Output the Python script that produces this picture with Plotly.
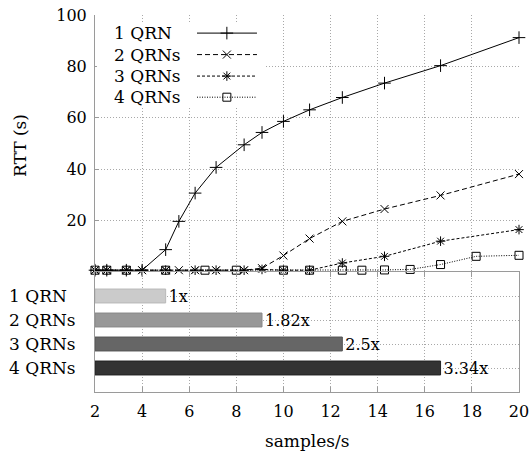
import plotly.graph_objects as go

# ---------------- data ----------------
series_names = ["1 QRN", "2 QRNs", "3 QRNs", "4 QRNs"]

x_1 = [2, 2.5, 3.33, 4, 5, 5.56, 6.25, 7.14, 8.33, 9.09, 10, 11.11, 12.5, 14.29, 16.67, 20]
y_1 = [0.7, 0.7, 0.7, 0.7, 8.7, 19.7, 30.7, 40.7, 49.5, 54.3, 58.6, 63.1, 67.9, 73.5, 80.3, 91.2]

x_2 = [2, 2.5, 3.33, 4, 5, 5.56, 6.25, 7.14, 8.33, 9.09, 10, 11.11, 12.5, 14.29, 16.67, 20]
y_2 = [0.7, 0.7, 0.7, 0.7, 0.7, 0.7, 0.7, 0.7, 0.7, 1.5, 6.4, 13.0, 19.7, 24.5, 29.8, 38.1]

x_3 = [2, 2.5, 3.33, 4, 5, 6.25, 7.14, 8.33, 9.09, 10, 11.11, 12.5, 14.29, 16.67, 20]
y_3 = [0.7, 0.7, 0.7, 0.7, 0.7, 0.7, 0.7, 0.7, 1.0, 0.7, 0.7, 3.5, 6.1, 12.0, 16.5]

x_4 = [2, 2.5, 3.33, 5, 6.67, 8, 10, 11.11, 12.5, 13.33, 14.29, 15.38, 16.67, 18.18, 20]
y_4 = [0.7, 0.7, 0.7, 0.7, 0.7, 0.7, 0.7, 0.7, 0.7, 0.7, 0.8, 1.0, 2.9, 6.1, 6.5]

max_rate = [5.0, 9.09, 12.5, 16.67]          # samples/s sustained per configuration
speedup_labels = ["1x", "1.82x", "2.5x", "3.34x"]
bar_positions = [1, 2, 3, 4]

x_ticks = [2, 4, 6, 8, 10, 12, 14, 16, 18, 20]
y_ticks = [20, 40, 60, 80, 100]

# ---------------- styles ----------------
FONT = "DejaVu Serif"
FS = 16
AXC = "#9a9a9a"
GRIDC = "#a8a8a8"
GRIDDASH = "1px,2px"
bar_colors = ["#cbcbcb", "#989898", "#666666", "#333333"]
bar_lines = ["#b8b8b8", "#888888", "#555555", "#222222"]
dashes = ["solid", "5px,3px", "3px,2px", "1px,1.5px"]
symbols = ["cross-thin-open", "x-thin-open", "asterisk-open", "square-open"]
msizes = [9, 8, 8, 8]

xs = [x_1, x_2, x_3, x_4]
ys = [y_1, y_2, y_3, y_4]

fig = go.Figure()

# line series (top panel)
for i in [3, 2, 1, 0]:
    fig.add_trace(go.Scatter(
        x=xs[i], y=ys[i], mode="lines+markers", name=series_names[i],
        xaxis="x", yaxis="y", showlegend=False, hoverinfo="skip",
        line=dict(color="black", width=1, dash=dashes[i]),
        marker=dict(symbol=symbols[i], size=msizes[i], color="black",
                    line=dict(color="black", width=1)),
        cliponaxis=False,
    ))

# bars (bottom panel)
fig.add_trace(go.Bar(
    y=bar_positions, x=[v - x_ticks[0] for v in max_rate], base=x_ticks[0],
    orientation="h", xaxis="x2", yaxis="y2", width=0.58,
    marker=dict(color=bar_colors, line=dict(color=bar_lines, width=1)),
    text=speedup_labels, textposition="outside", cliponaxis=False,
    constraintext="none",
    textfont=dict(family=FONT, size=FS, color="black"),
    showlegend=False, hoverinfo="skip",
))

# ---------------- custom legend (text left, sample right) ----------------
leg_x0, leg_x1, leg_xm = 0.2406, 0.382, 0.311
leg_rows = [0.952, 0.895, 0.838, 0.782]
fig.add_trace(go.Scatter(
    x=[0.0047, 0.403, 0.403, 0.0047, 0.0047], y=[0.756, 0.756, 0.976, 0.976, 0.756],
    fill="toself", fillcolor="white", mode="none", xaxis="x3", yaxis="y3",
    showlegend=False, hoverinfo="skip"))
for i in range(4):
    fig.add_trace(go.Scatter(
        x=[leg_x0, leg_xm, leg_x1], y=[leg_rows[i]] * 3, mode="lines+markers",
        xaxis="x3", yaxis="y3", showlegend=False, hoverinfo="skip",
        line=dict(color="black", width=1, dash=dashes[i]),
        marker=dict(symbol=symbols[i], size=msizes[i], color="black",
                    opacity=[0, 1, 0], line=dict(color="black", width=1)),
    ))
    fig.add_annotation(x=0.04, y=leg_rows[i], xref="paper", yref="paper",
                       text=series_names[i], showarrow=False, xanchor="left",
                       yanchor="middle", font=dict(family=FONT, size=FS + 1, color="black"))

# category labels of the bar panel
for i in range(4):
    fig.add_annotation(x=-0.207, y=bar_positions[i], xref="paper", yref="y2",
                       text=series_names[i], showarrow=False, xanchor="left",
                       yanchor="middle", font=dict(family=FONT, size=FS + 1, color="black"))

# axis titles
fig.add_annotation(x=-0.177, y=0.655, xref="paper", yref="paper", text="RTT (s)",
                   textangle=-90, showarrow=False, xanchor="center", yanchor="middle",
                   font=dict(family=FONT, size=FS + 1, color="black"))
fig.add_annotation(x=0.5, y=-0.13, xref="paper", yref="paper", text="samples/s",
                   showarrow=False, xanchor="center", yanchor="middle",
                   font=dict(family=FONT, size=FS + 1, color="black"))

split = 0.3183
fig.update_layout(
    width=530, height=457,
    margin=dict(l=95, r=11, t=15, b=65, autoexpand=False),
    paper_bgcolor="white", plot_bgcolor="rgba(0,0,0,0)",
    font=dict(family=FONT, size=FS, color="black"),
    showlegend=False,
    xaxis=dict(domain=[0, 1], range=[2, 20], anchor="y", matches="x2",
               tickvals=x_ticks[1:], showticklabels=False, ticks="",
               showgrid=True, gridcolor=GRIDC, griddash=GRIDDASH, gridwidth=1,
               showline=False, zeroline=False),
    yaxis=dict(domain=[split, 1], range=[0, 100], anchor="x",
               tickvals=y_ticks, ticks="inside", ticklen=4, tickcolor=AXC,
               showgrid=True, gridcolor=GRIDC, griddash=GRIDDASH, gridwidth=1,
               showline=True, linecolor=AXC, linewidth=1, zeroline=False,
               ticklabelstandoff=4),
    xaxis2=dict(domain=[0, 1], range=[2, 20], anchor="y2",
                tickvals=x_ticks, ticks="inside", ticklen=5, tickcolor=AXC,
                showgrid=True, gridcolor=GRIDC, griddash=GRIDDASH, gridwidth=1,
                showline=True, linecolor=AXC, linewidth=1, mirror="ticks",
                zeroline=False, ticklabelstandoff=5),
    yaxis2=dict(domain=[0, split], range=[5, 0], anchor="x2",
                tickvals=bar_positions, showticklabels=False, ticks="",
                showgrid=True, gridcolor=GRIDC, griddash=GRIDDASH, gridwidth=1,
                showline=True, linecolor=AXC, linewidth=1, mirror=True,
                zeroline=False),
    xaxis3=dict(domain=[0, 1], range=[0, 1], anchor="y3", visible=False, fixedrange=True),
    yaxis3=dict(domain=[0, 1], range=[0, 1], anchor="x3", visible=False, fixedrange=True),
)

fig.write_html(
    "out.html",
    config={"displayModeBar": False, "staticPlot": True},
    post_script="document.body.style.margin='0';document.body.style.overflow='hidden';",
)
